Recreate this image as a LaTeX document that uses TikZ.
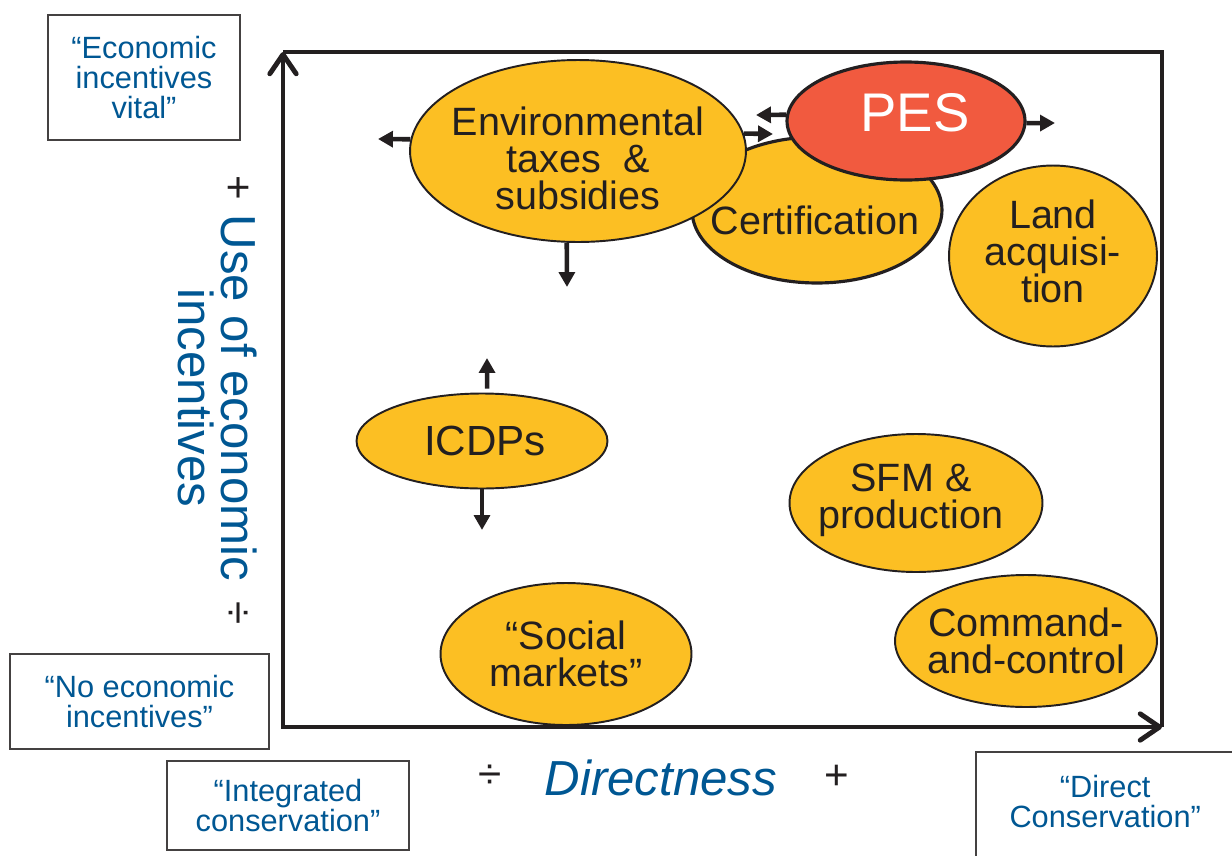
\documentclass[tikz,border=0pt]{standalone}
\usepackage{fontspec}
\setmainfont{Liberation Sans}
\usetikzlibrary{shapes.geometric,arrows.meta}

\definecolor{gold}{RGB}{252,191,35}
\definecolor{pesred}{RGB}{241,90,63}
\definecolor{navy}{RGB}{0,87,147}
\definecolor{ink}{RGB}{35,31,32}

\tikzset{
  blob/.style={ellipse, draw=ink, line width=1.1pt, fill=gold, inner sep=0pt},
  blobtxt/.style={inner sep=0pt, align=center, text=ink, font=\fontsize{22.5}{21}\selectfont},
  tagtxt/.style={inner sep=0pt, align=center, text=navy, font=\fontsize{17.5}{17}\selectfont},
  tagbox/.style={tagtxt, draw=ink!85, line width=1.4pt},
  sign/.style={inner sep=0pt, text=ink, font=\fontsize{24}{24}\selectfont},
  trend/.style={draw=ink, line width=2.6pt, -{Triangle[width=9pt,length=8.5pt]}},
  axisline/.style={draw=ink, line width=2.8pt,
    {Straight Barb[length=11pt,width=15pt,round]}-{Straight Barb[length=11pt,width=15pt,round]}},
  frameline/.style={draw=ink, line width=2.8pt}
}

\begin{document}
\begin{tikzpicture}[x=0.02cm, y=-0.02cm]
  \useasboundingbox (0,0) rectangle (1232,856);

  % Define points
  \coordinate (orig) at (283,727);
  \coordinate (ytip) at (283,52);
  \coordinate (xtip) at (1162,727);
  \coordinate (corner) at (1162,52);

  % Frame and axes
  \draw[frameline] (ytip) -- (corner) -- (xtip);
  \draw[axisline] (ytip) -- (orig) -- (xtip);

  % Instruments
  \node[blob, line width=1.8pt, minimum width=5cm, minimum height=2.92cm,
    label={[blobtxt, xshift=-0.04cm, yshift=-0.2cm]center:Certification}] (cert) at (817,210) {};
  \node[blob, minimum width=6.72cm, minimum height=3.64cm,
    label={[blobtxt, yshift=-0.14cm]center:{Environmental\\taxes\ \ \&\\subsidies}}] (env) at (578,151) {};
  \node[blob, fill=pesred, line width=1.8pt, minimum width=4.76cm, minimum height=2.36cm,
    label={[blobtxt, text=white, font=\fontsize{31}{31}\selectfont, xshift=0.18cm, yshift=0.16cm]center:PES}] (pes) at (906,121) {};
  \node[blob, minimum width=4.16cm, minimum height=3.62cm,
    label={[blobtxt, yshift=0.1cm]center:{Land\\acquisi-\\tion}}] (land) at (1053,256) {};
  \node[blob, minimum width=5.02cm, minimum height=1.9cm,
    label={[blobtxt, font=\fontsize{24}{24}\selectfont, xshift=0.06cm]center:ICDPs}] (icdps) at (482,441) {};
  \node[blob, minimum width=5.06cm, minimum height=2.76cm,
    label={[blobtxt, xshift=-0.1cm, yshift=0.06cm]center:{SFM \&\\production}}] (sfm) at (916,503) {};
  \node[blob, minimum width=5.24cm, minimum height=2.64cm,
    label={[blobtxt]center:{Command-\\and-control}}] (cmd) at (1026,641) {};
  \node[blob, minimum width=5.02cm, minimum height=2.84cm,
    label={[blobtxt]center:{“Social\\markets”}}] (social) at (566,654) {};

  % Arrow tips
  \coordinate (envL) at (378,139);
  \coordinate (envD) at (567,287);
  \coordinate (envR) at (773,134);
  \coordinate (pesL) at (756,115);
  \coordinate (pesR) at (1055,123);
  \coordinate (icU) at (487,358);
  \coordinate (icD) at (482,530);

  \draw[trend] (env.176) -- (envL);
  \draw[trend] (env.263) -- (envD);
  \draw[trend] (env.6) -- (envR);
  \draw[trend] (pes.177) -- (pesL);
  \draw[trend] (pes.359) -- (pesR);
  \draw[trend, shorten <=2.3pt] (icdps.84) -- (icU);
  \draw[trend] (icdps.south) -- (icD);

  % Corner boxes
  \node[tagbox, minimum width=3.84cm, minimum height=2.5cm] (vital) at (144,77.5) {“Economic\\incentives\\vital”};
  \node[tagbox, minimum width=5.18cm, minimum height=1.9cm] (noinc) at (139.5,701.5) {“No economic\\incentives”};
  \node[tagbox, minimum width=4.84cm, minimum height=1.78cm] (integ) at (288,805.5) {“Integrated\\conservation”};
  \node[tagbox, anchor=north west, minimum width=5.4cm, minimum height=2.4cm,
    label={[tagtxt, xshift=-0.12cm, yshift=0.22cm]center:{“Direct\\Conservation”}}] (direct) at (975,751) {};

  % Axis labels
  \node[rotate=-90, inner sep=0pt, align=center, text=navy, font=\fontsize{28}{24.5}\selectfont] (ylab) at (218,398) {Use of economic\\incentives};
  \node[sign, rotate=-90] (yplus) at (237,188) {+};
  \node[sign, rotate=-90] (yminus) at (236,613) {÷};
  \node[sign] (xminus) at (490,777) {÷};
  \node[inner sep=0pt, text=navy, font=\fontsize{28}{30}\selectfont\itshape] (xlab) at (661,778) {Directness};
  \node[sign] (xplus) at (837,777) {+};
\end{tikzpicture}
\end{document}
